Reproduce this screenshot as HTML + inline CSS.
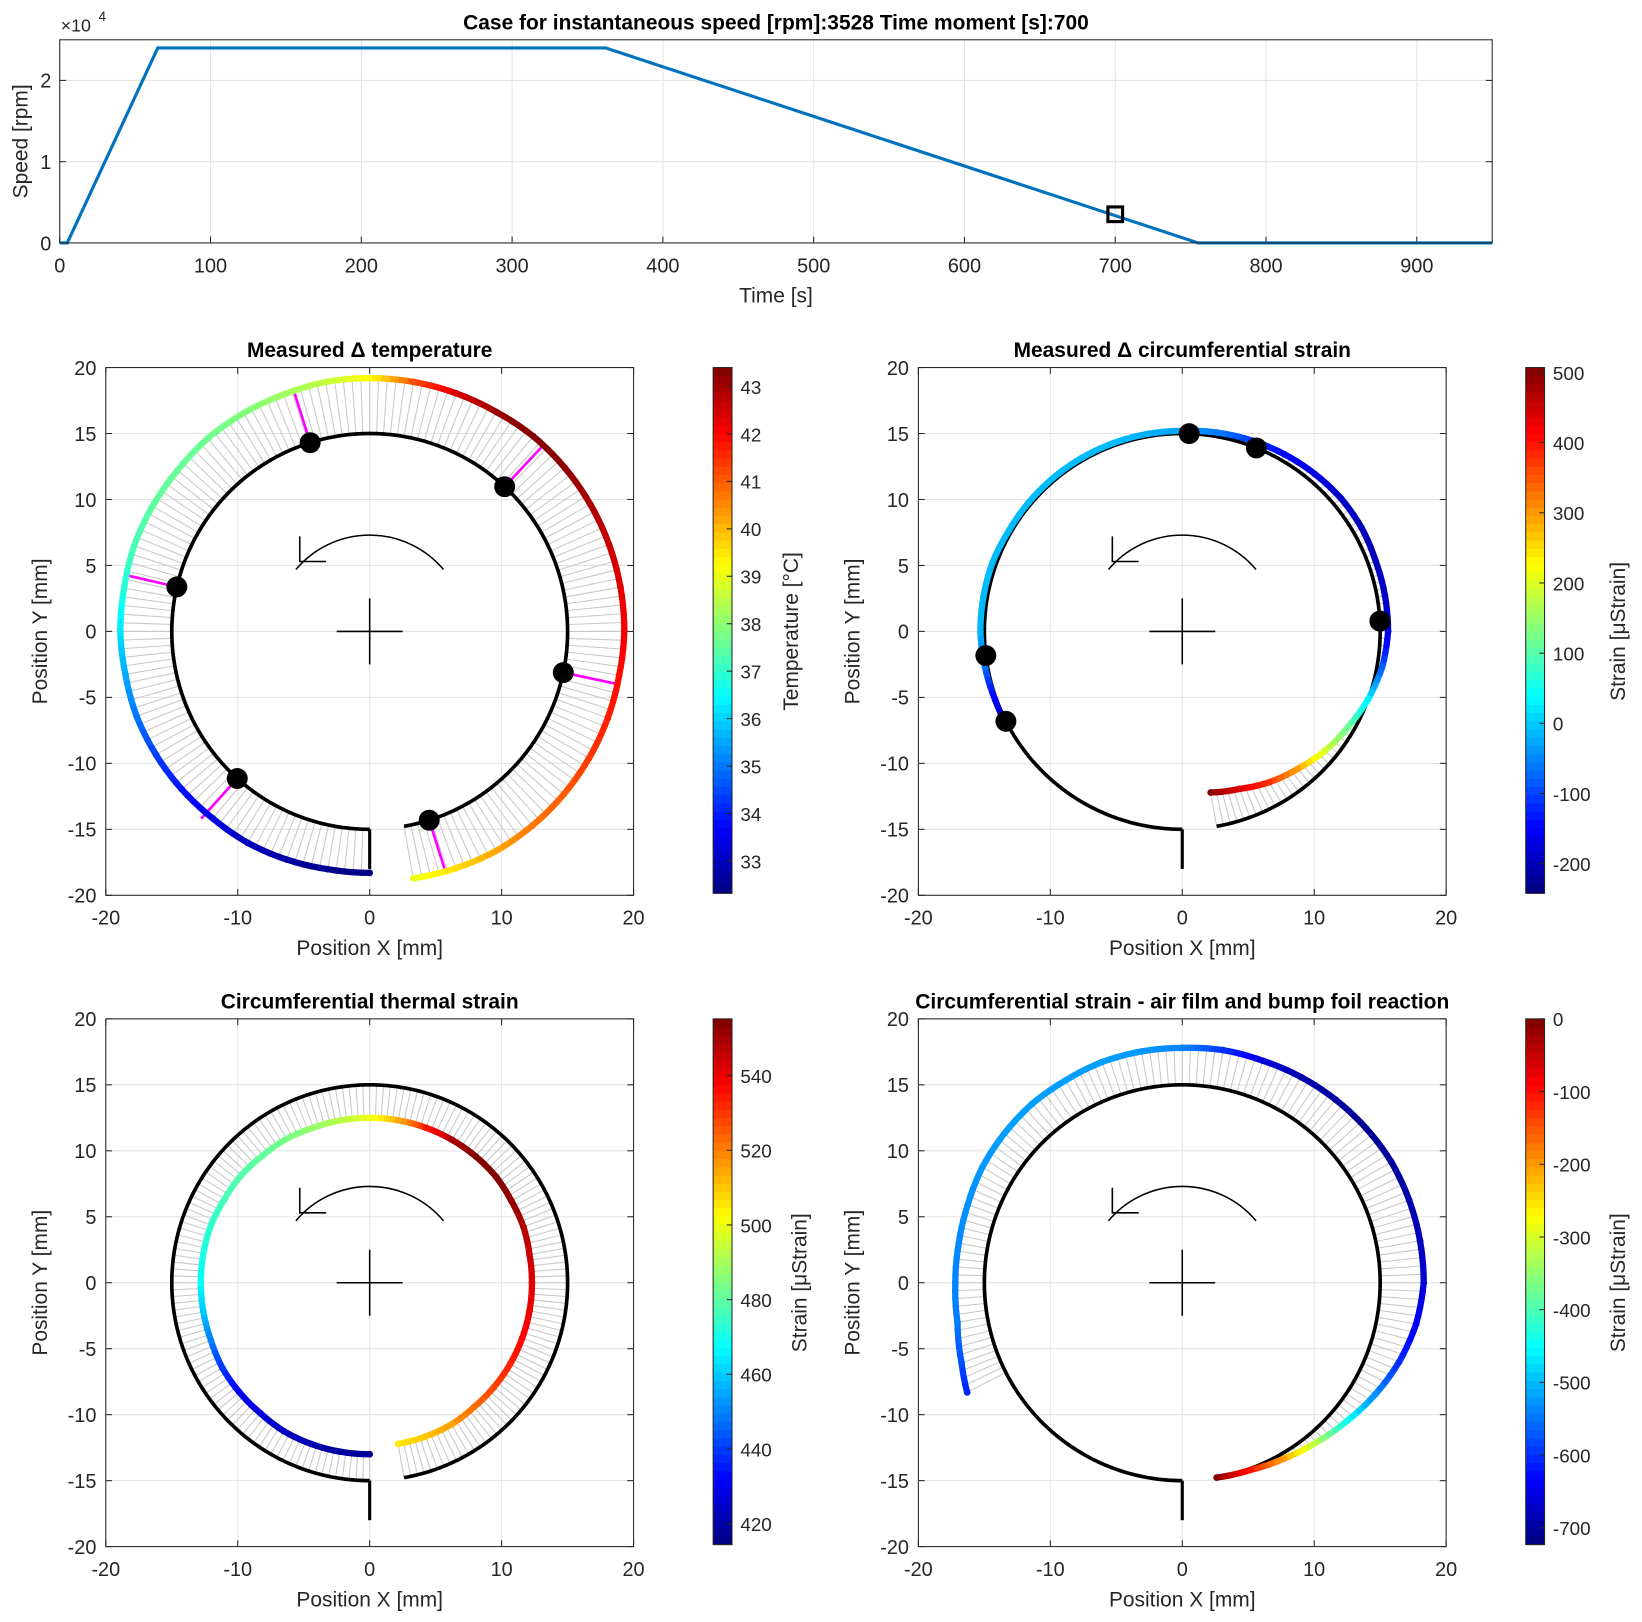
<!DOCTYPE html>
<html><head><meta charset="utf-8"><style>
html,body{margin:0;padding:0;background:#fff;}
svg{display:block;font-family:"Liberation Sans",sans-serif;}
</style></head><body>
<svg id="fig" width="1642" height="1622" viewBox="0 0 1568 1549" xmlns="http://www.w3.org/2000/svg"></svg>
<script>
// ---- speed chart data ----
const speedTimes = [0, 5, 65, 362, 755, 950];
const speedValues = [0, 0, 24000, 24000, 0, 0];
const markerTime = 700;
const markerSpeed = 3528;
const speedXTicks = [0,100,200,300,400,500,600,700,800,900];
const speedYTicks = [0,1,2];

// ---- measured temperature ----
const tempAngles = [-80,-70,-60,-50,-40,-30,-20,-10,0,10,20,30,40,50,60,70,80,90,100,110,120,130,140,150,160,170,180,190,200,210,220,230,240,250,260,270];
const tempValues = [39.0,39.6,40.2,40.7,41.0,41.4,41.7,41.9,42.1,42.3,42.6,42.9,43.2,43.4,43.1,42.5,41.2,39.3,38.6,38.2,37.9,37.7,37.6,37.5,37.3,36.9,36.2,35.6,35.0,34.4,33.9,33.4,33.0,32.7,32.5,32.4];
const tempRadius = [19.0,19.1,19.2,19.2,19.2,19.2,19.2,19.2,19.3,19.3,19.3,19.3,19.3,19.3,19.2,19.2,19.2,19.2,19.2,19.1,19.1,19.1,19.0,19.0,19.0,18.9,18.9,18.8,18.8,18.7,18.6,18.5,18.5,18.4,18.3,18.3];
const tempSensorAngles = [-72.5,-12,47,107.5,167,228];
const tempCbTicks = [33,34,35,36,37,38,39,40,41,42,43];

// ---- measured circumferential strain ----
const strainAngles = [-80,-70,-60,-50,-40,-30,-20,-10,0,10,20,30,40,50,60,70,80,90,100,110,120,130,140,150,160,170,180,190,200,206];
const strainValues = [500,440,380,300,200,120,30,-80,-170,-190,-200,-200,-190,-170,-150,-110,-60,-30,-20,-10,-10,-10,-10,-10,-10,-10,-15,-60,-150,-200];
const strainRadius = [12.4,12.7,13.2,13.6,14.1,14.5,15.0,15.4,15.6,15.6,15.6,15.7,15.7,15.6,15.5,15.4,15.3,15.2,15.2,15.2,15.2,15.2,15.2,15.2,15.3,15.3,15.3,15.2,15.1,15.1];
const strainSensorAngles = [3,68,88,187,207];
const strainCbTicks = [-200,-100,0,100,200,300,400,500];

// ---- thermal strain ----
const thermAngles = tempAngles;
const thermValues = [505,510,515,522,528,533,537,540,542,545,548,552,555,555,550,535,515,500,493,488,484,481,479,477,474,471,468,460,450,440,432,427,423,421,419,418];
const thermRadius = [12.4,12.4,12.4,12.3,12.3,12.3,12.3,12.3,12.3,12.3,12.4,12.4,12.5,12.5,12.5,12.5,12.5,12.5,12.5,12.5,12.6,12.6,12.7,12.7,12.8,12.8,12.8,12.8,12.8,12.9,12.9,12.9,13.0,13.0,13.0,13.0];
const thermCbTicks = [420,440,460,480,500,520,540];

// ---- air film strain ----
const airAngles = [-80,-70,-60,-50,-40,-30,-20,-10,0,10,20,30,40,50,60,70,80,90,100,110,120,130,140,150,160,170,180,190,200,207];
const airValues = [-5,-100,-200,-320,-440,-530,-600,-640,-660,-680,-690,-700,-710,-700,-690,-660,-600,-540,-525,-520,-520,-520,-520,-525,-530,-535,-540,-545,-575,-610];
const airRadius = [15.0,15.1,15.4,15.8,16.3,16.9,17.5,18.0,18.3,18.3,18.3,18.3,18.2,18.1,18.0,17.9,17.9,17.8,17.8,17.8,17.7,17.7,17.6,17.5,17.3,17.2,17.2,17.3,17.8,18.3];
const airCbTicks = [-700,-600,-500,-400,-300,-200,-100,0];

const NS = "http://www.w3.org/2000/svg";
const svg = document.getElementById('fig');
function mk(tag, attrs, parent, name, inter) {
  const e = document.createElementNS(NS, tag);
  for (const k in attrs) e.setAttribute(k, attrs[k]);
  
  
  (parent || svg).appendChild(e);
  return e;
}
function txt(x, y, s, size, parent, name, extra) {
  const a = {x: x, y: y, 'font-size': size, fill: '#262626', 'text-anchor': 'middle'};
  if (extra) for (const k in extra) a[k] = extra[k];
  const t = mk('text', a, parent, name, false);
  t.textContent = s;
  return t;
}
function jet(t) {
  t = Math.max(0, Math.min(1, t));
  const r = Math.max(0, Math.min(1, 1.5 - Math.abs(4 * t - 3)));
  const g = Math.max(0, Math.min(1, 1.5 - Math.abs(4 * t - 2)));
  const b = Math.max(0, Math.min(1, 1.5 - Math.abs(4 * t - 1)));
  return 'rgb(' + Math.round(r * 255) + ',' + Math.round(g * 255) + ',' + Math.round(b * 255) + ')';
}

// ---------------- Speed chart ----------------
(function () {
  const g = mk('g', {}, svg, 'speed-chart', false);
  const X0 = 57, X1 = 1425, Y0 = 38, Y1 = 232;
  const xs = v => X0 + (v - 0) / 950 * (X1 - X0);
  const ys = v => Y1 - v / 25000 * (Y1 - Y0);
  mk('rect', {x: X0, y: Y0, width: X1 - X0, height: Y1 - Y0, fill: '#fff'}, g, 'speed-plot-area', false);
  speedXTicks.forEach(t => {
    mk('line', {x1: xs(t), x2: xs(t), y1: Y0, y2: Y1, stroke: '#e3e3e3', 'stroke-width': 1}, g, 'x-gridline', false);
    mk('line', {x1: xs(t), x2: xs(t), y1: Y1, y2: Y1 - 6, stroke: '#262626'}, g, 'x-tick', false);
    txt(xs(t), Y1 + 28, String(t), 19, g, 'x-tick-label');
  });
  speedYTicks.forEach(t => {
    const y = ys(t * 10000);
    mk('line', {x1: X0, x2: X1, y1: y, y2: y, stroke: '#e3e3e3'}, g, 'y-gridline', false);
    mk('line', {x1: X0, x2: X0 + 6, y1: y, y2: y, stroke: '#262626'}, g, 'y-tick', false);
    mk('line', {x1: X1, x2: X1 - 6, y1: y, y2: y, stroke: '#262626'}, g, 'y-tick', false);
    txt(X0 - 8, y + 7, String(t), 19, g, 'y-tick-label', {'text-anchor': 'end'});
  });
  let d = '';
  speedTimes.forEach((t, i) => { d += (i ? 'L' : 'M') + xs(t) + ',' + ys(speedValues[i]); });
  mk('path', {d: d, fill: 'none', stroke: '#0072bd', 'stroke-width': 3}, g, 'speed-line', false);
  mk('rect', {x: xs(markerTime) - 7, y: ys(markerSpeed) - 7, width: 14, height: 14, fill: 'none', stroke: '#000', 'stroke-width': 3}, g, 'current-time-marker', false);
  mk('rect', {x: X0, y: Y0, width: X1 - X0, height: Y1 - Y0, fill: 'none', stroke: '#262626', 'stroke-width': 1}, g, 'speed-axes-box', false);
  txt(741, 28, 'Case for instantaneous speed [rpm]:3528 Time moment [s]:700', 20, g, 'speed-title', {'font-weight': 'bold', fill: '#000'});
  txt(741, 289, 'Time [s]', 20, g, 'x-axis-title');
  txt(26, 135, 'Speed [rpm]', 20, g, 'y-axis-title', {transform: 'rotate(-90 26 135)'});
  txt(58, 30, '\u00d710', 17, g, 'y-exponent-label', {'text-anchor': 'start'});
  txt(94, 20, '4', 13, g, 'y-exponent-power', {'text-anchor': 'start'});
})();

// ---------------- Ring panels ----------------
function panel(opt) {
  const g = mk('g', {}, svg, opt.name, false);
  const X0 = opt.x0, X1 = X0 + 504, Y0 = opt.y0, Y1 = Y0 + 504;
  const xs = v => X0 + (v + 20) / 40 * 504;
  const ys = v => Y1 - (v + 20) / 40 * 504;
  const P = (r, a) => [xs(r * Math.cos(a * Math.PI / 180)), ys(r * Math.sin(a * Math.PI / 180))];
  const norm = v => (v - opt.vmin) / (opt.vmax - opt.vmin);
  mk('rect', {x: X0, y: Y0, width: 504, height: 504, fill: '#fff'}, g, 'plot-area', false);
  [-20, -15, -10, -5, 0, 5, 10, 15, 20].forEach(t => {
    mk('line', {x1: X0, x2: X1, y1: ys(t), y2: ys(t), stroke: '#e3e3e3'}, g, 'y-gridline', false);
    mk('line', {x1: X0, x2: X0 + 6, y1: ys(t), y2: ys(t), stroke: '#262626'}, g, 'y-tick', false);
    mk('line', {x1: X1, x2: X1 - 6, y1: ys(t), y2: ys(t), stroke: '#262626'}, g, 'y-tick', false);
    txt(X0 - 9, ys(t) + 7, String(t), 19, g, 'y-tick-label', {'text-anchor': 'end'});
  });
  [-20, -10, 0, 10, 20].forEach(t => {
    mk('line', {x1: xs(t), x2: xs(t), y1: Y0, y2: Y1, stroke: '#e3e3e3'}, g, 'x-gridline', false);
    mk('line', {x1: xs(t), x2: xs(t), y1: Y1, y2: Y1 - 6, stroke: '#262626'}, g, 'x-tick', false);
    mk('line', {x1: xs(t), x2: xs(t), y1: Y0, y2: Y0 + 6, stroke: '#262626'}, g, 'x-tick', false);
    txt(xs(t), Y1 + 28, String(t), 19, g, 'x-tick-label');
  });
  const A = opt.angles, V = opt.values, R = opt.radius;
  const samples = [];
  for (let i = 0; i < A.length - 1; i++) {
    const n = Math.max(1, Math.round((A[i + 1] - A[i]) / 2));
    for (let k = 0; k < n; k++) {
      const f = k / n;
      samples.push([A[i] + f * (A[i + 1] - A[i]), V[i] + f * (V[i + 1] - V[i]), R[i] + f * (R[i + 1] - R[i])]);
    }
  }
  samples.push([A[A.length - 1], V[V.length - 1], R[R.length - 1]]);
  samples.forEach(s => {
    const p1 = P(opt.baseR, s[0]), p2 = P(s[2], s[0]);
    mk('line', {x1: p1[0], y1: p1[1], x2: p2[0], y2: p2[1], stroke: '#c8c8c8', 'stroke-width': 1}, g, 'connector-line', false);
  });
  let d = '';
  for (let a = -80; a <= 270; a += 1) { const p = P(15, a); d += (a === -80 ? 'M' : 'L') + p[0] + ',' + p[1]; }
  mk('path', {d: d, fill: 'none', stroke: '#000', 'stroke-width': 3.5}, g, 'reference-ring', false);
  mk('line', {x1: xs(0), y1: ys(-15), x2: xs(0), y2: ys(-18), stroke: '#000', 'stroke-width': 3}, g, 'ring-end-line', false);
  (opt.magenta || []).forEach(a => {
    const p1 = P(15, a), p2 = P(opt.magR(a), a);
    mk('line', {x1: p1[0], y1: p1[1], x2: p2[0], y2: p2[1], stroke: '#ff00ff', 'stroke-width': 2.5}, g, 'sensor-line', false);
  });
  for (let i = 0; i < samples.length - 1; i++) {
    const p1 = P(samples[i][2], samples[i][0]), p2 = P(samples[i + 1][2], samples[i + 1][0]);
    mk('line', {x1: p1[0], y1: p1[1], x2: p2[0], y2: p2[1], stroke: jet(norm((samples[i][1] + samples[i + 1][1]) / 2)), 'stroke-width': 6, 'stroke-linecap': 'round'}, g, 'strain-segment', false);
  }
  A.forEach((a, i) => {
    const p = P(R[i], a);
    mk('circle', {cx: p[0], cy: p[1], r: 3.2, fill: jet(norm(V[i]))}, g, 'data-point', false);
  });
  (opt.sensors || []).forEach(a => {
    const p = P(15, a);
    mk('circle', {cx: p[0], cy: p[1], r: 10, fill: '#000'}, g, 'sensor', false);
  });
  const pa = P(7.3, 40), pb = P(7.3, 140);
  mk('path', {d: 'M' + pa[0] + ',' + pa[1] + ' A' + (7.3 * 12.6) + ',' + (7.3 * 12.6) + ' 0 0 0 ' + pb[0] + ',' + pb[1], fill: 'none', stroke: '#000', 'stroke-width': 1.5}, g, 'rotation-arrow', false);
  mk('path', {d: 'M' + xs(-5.3) + ',' + ys(7.2) + ' L' + xs(-5.3) + ',' + ys(5.3) + ' L' + xs(-3.3) + ',' + ys(5.3), fill: 'none', stroke: '#000', 'stroke-width': 1.5}, g, 'rotation-arrowhead', false);
  mk('line', {x1: xs(-2.5), y1: ys(0), x2: xs(2.5), y2: ys(0), stroke: '#000', 'stroke-width': 1.5}, g, 'centre-cross-h', false);
  mk('line', {x1: xs(0), y1: ys(-2.5), x2: xs(0), y2: ys(2.5), stroke: '#000', 'stroke-width': 1.5}, g, 'centre-cross-v', false);
  mk('rect', {x: X0, y: Y0, width: 504, height: 504, fill: 'none', stroke: '#262626'}, g, 'axes-box', false);
  txt(X0 + 252, Y0 - 10, opt.title, 20, g, 'panel-title', {'font-weight': 'bold', fill: '#000'});
  txt(X0 + 252, Y1 + 57, 'Position X [mm]', 20, g, 'x-axis-title');
  const yl = X0 - 56;
  txt(yl, Y0 + 252, 'Position Y [mm]', 20, g, 'y-axis-title', {transform: 'rotate(-90 ' + yl + ' ' + (Y0 + 252) + ')'});
  const cx = opt.cbx, cy0 = Y0, cy1 = Y0 + 502;
  const cg = mk('g', {}, g, 'colorbar', false);
  const nb = 64;
  for (let i = 0; i < nb; i++) {
    mk('rect', {x: cx, y: cy1 - (i + 1) * (cy1 - cy0) / nb, width: 18, height: (cy1 - cy0) / nb + 0.6, fill: jet((i + 0.5) / nb)}, cg, 'colorbar-cell', false);
  }
  mk('rect', {x: cx, y: cy0, width: 18, height: cy1 - cy0, fill: 'none', stroke: '#262626'}, cg, 'colorbar-box', false);
  opt.cbTicks.forEach(t => {
    const y = cy1 - norm(t) * (cy1 - cy0);
    mk('line', {x1: cx + 18, x2: cx + 13, y1: y, y2: y, stroke: '#262626'}, cg, 'colorbar-tick', false);
    txt(cx + 26, y + 7, String(t), 18, cg, 'colorbar-tick-label', {'text-anchor': 'start'});
  });
  const lx = opt.cblx;
  txt(lx, Y0 + 252, opt.cbLabel, 20, cg, 'colorbar-label', {transform: 'rotate(-90 ' + lx + ' ' + (Y0 + 252) + ')'});
}

panel({name: 'temperature-panel', title: 'Measured \u0394 temperature', x0: 101, y0: 351, baseR: 15,
  angles: tempAngles, values: tempValues, radius: tempRadius, vmin: 32.32, vmax: 43.4,
  sensors: tempSensorAngles, magenta: tempSensorAngles, magR: a => 19.1,
  cbx: 681, cbTicks: tempCbTicks, cbLabel: 'Temperature [\u00b0C]', cblx: 762});
panel({name: 'strain-panel', title: 'Measured \u0394 circumferential strain', x0: 877, y0: 351, baseR: 15,
  angles: strainAngles, values: strainValues, radius: strainRadius, vmin: -242, vmax: 507,
  sensors: strainSensorAngles,
  cbx: 1457, cbTicks: strainCbTicks, cbLabel: 'Strain [\u03bcStrain]', cblx: 1552});
panel({name: 'thermal-strain-panel', title: 'Circumferential thermal strain', x0: 101, y0: 973, baseR: 15,
  angles: thermAngles, values: thermValues, radius: thermRadius, vmin: 414.4, vmax: 555.2,
  cbx: 681, cbTicks: thermCbTicks, cbLabel: 'Strain [\u03bcStrain]', cblx: 770});
panel({name: 'air-film-panel', title: 'Circumferential strain - air film and bump foil reaction', x0: 877, y0: 973, baseR: 15,
  angles: airAngles, values: airValues, radius: airRadius, vmin: -723, vmax: 0,
  cbx: 1457, cbTicks: airCbTicks, cbLabel: 'Strain [\u03bcStrain]', cblx: 1552});
</script>
</body></html>
